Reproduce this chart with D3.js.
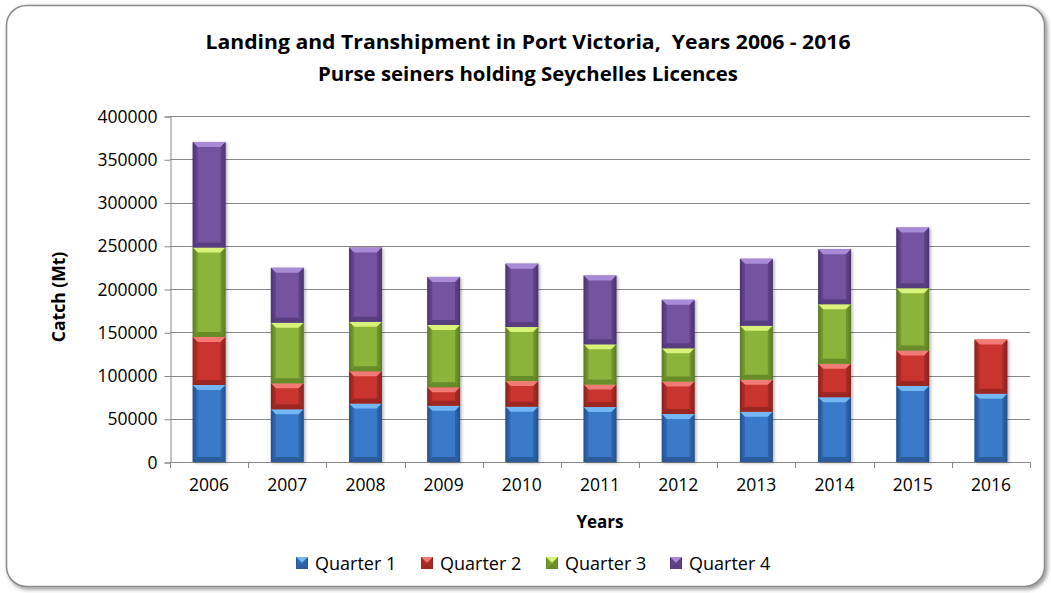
<!DOCTYPE html>
<html>
<head>
<meta charset="utf-8">
<script src="https://cdn.jsdelivr.net/npm/d3@7"></script>
<style>
  body { margin: 0; background: #fff; }
  text { font-family: "Open Sans", sans-serif; fill: #000; }
</style>
</head>
<body>
<div id="chart"></div>
<script>
/**
 * CONSTANTS AND GLOBALS
 **/
const width = 1051, height = 593,
    margin = { top: 116, bottom: 131, left: 170, right: 21 };

// data (catch in Mt)
const years = ["2006", "2007", "2008", "2009", "2010", "2011", "2012", "2013", "2014", "2015", "2016"];
const quarter1 = [89000, 61000, 67500, 65000, 64000, 63500, 55500, 58000, 75000, 88000, 79000];
const quarter2 = [55500, 30000, 37500, 21500, 29500, 26000, 37500, 37000, 38500, 41000, 62500];
const quarter3 = [103500, 70000, 57000, 72000, 62500, 46500, 38500, 62500, 69000, 72000, 0];
const quarter4 = [122000, 63500, 86000, 55500, 73300, 79500, 56000, 77500, 63500, 70000, 0];
const seriesNames = ["Quarter 1", "Quarter 2", "Quarter 3", "Quarter 4"];
const yTicks = [0, 50000, 100000, 150000, 200000, 250000, 300000, 350000, 400000];

// colours: base, light (top bevel), dark (edges)
const colors = [
    { base: "#3b7acb", light: "#73b8f5", dark: "#24508a" },
    { base: "#c9352f", light: "#f27a74", dark: "#882320" },
    { base: "#8bb43a", light: "#d9f27a", dark: "#5b7a23" },
    { base: "#7552a0", light: "#a88ad6", dark: "#4b3370" }
];

// table for d3.stack
const table = years.map((y, i) => ({
    year: y, q1: quarter1[i], q2: quarter2[i], q3: quarter3[i], q4: quarter4[i]
}));
const keys = ["q1", "q2", "q3", "q4"];

const svg = d3.select("#chart").append("svg")
    .attr("width", width)
    .attr("height", height);

const defs = svg.append("defs");
defs.append("filter").attr("id", "frameShadow")
    .attr("x", "-5%").attr("y", "-5%").attr("width", "110%").attr("height", "110%")
    .append("feDropShadow")
    .attr("dx", 2).attr("dy", 2).attr("stdDeviation", 2)
    .attr("flood-color", "#000").attr("flood-opacity", 0.45);
defs.append("filter").attr("id", "barShadow")
    .attr("x", "-20%").attr("y", "-5%").attr("width", "140%").attr("height", "110%")
    .append("feDropShadow")
    .attr("dx", 1.5).attr("dy", 1).attr("stdDeviation", 1.5)
    .attr("flood-color", "#000").attr("flood-opacity", 0.3);

colors.forEach((c, i) => {
    const g = defs.append("linearGradient").attr("id", "grad" + i)
        .attr("x1", 0).attr("x2", 1).attr("y1", 0).attr("y2", 0);
    g.append("stop").attr("offset", "0%").attr("stop-color", c.dark);
    g.append("stop").attr("offset", "12%").attr("stop-color", c.base);
    g.append("stop").attr("offset", "88%").attr("stop-color", c.base);
    g.append("stop").attr("offset", "100%").attr("stop-color", c.dark);
});

// chart frame
svg.append("rect")
    .attr("x", 6.5).attr("y", 5.5)
    .attr("width", 1038).attr("height", 581)
    .attr("rx", 20).attr("ry", 20)
    .attr("fill", "#fff")
    .attr("stroke", "#8a8a8a")
    .attr("stroke-width", 1.5)
    .attr("filter", "url(#frameShadow)");

//Scales
const xScale = d3.scaleBand()
    .domain(years)
    .range([margin.left, width - margin.right])
    .paddingInner(0.58)
    .paddingOuter(0.29);

const yScale = d3.scaleLinear()
    .domain([0, 400000])
    .range([height - margin.bottom, margin.top]);

// gridlines
svg.append("g")
    .selectAll("line")
    .data(yTicks.slice(1))
    .join("line")
    .attr("x1", margin.left)
    .attr("x2", width - margin.right)
    .attr("y1", d => Math.round(yScale(d)) + 0.5)
    .attr("y2", d => Math.round(yScale(d)) + 0.5)
    .attr("stroke", "#888")
    .attr("stroke-width", 1.2);

//axes
const yAxis = d3.axisLeft(yScale).tickValues(yTicks).tickSize(6).tickPadding(7).tickFormat(d3.format("d"));
const yG = svg.append("g")
    .attr("transform", `translate(${margin.left + 0.5}, 0.5)`)
    .call(yAxis);
yG.select(".domain").attr("stroke", "#888");
yG.selectAll(".tick line").attr("stroke", "#888");
yG.selectAll(".tick text").attr("font-size", 17.5).attr("fill", "#000")
    .style("font-family", "'Open Sans', sans-serif");

// x axis: ticks sit on category boundaries
const step = xScale.step();
const x0 = margin.left;
const boundaries = d3.range(years.length + 1).map(i => x0 + i * step);
const xG = svg.append("g");
xG.append("line")
    .attr("x1", margin.left).attr("x2", width - margin.right)
    .attr("y1", yScale(0) + 0.5).attr("y2", yScale(0) + 0.5)
    .attr("stroke", "#888").attr("stroke-width", 1.2);
xG.selectAll("line.tk")
    .data(boundaries)
    .join("line")
    .attr("class", "tk")
    .attr("x1", d => Math.round(d) + 0.5).attr("x2", d => Math.round(d) + 0.5)
    .attr("y1", yScale(0)).attr("y2", yScale(0) + 6)
    .attr("stroke", "#888");
xG.selectAll("text")
    .data(years)
    .join("text")
    .attr("x", d => xScale(d) + xScale.bandwidth() / 2)
    .attr("y", yScale(0) + 29)
    .attr("text-anchor", "middle")
    .attr("font-size", 17.5)
    .text(d => d);

// stacked bars with bevel
const stacked = d3.stack().keys(keys)(table);
const bevel = 5;

function drawBevel(g, x, y, w, h, ci) {
    const c = colors[ci];
    const b = Math.min(bevel, h / 2, w / 2);
    g.append("rect")
        .attr("x", x).attr("y", y).attr("width", w).attr("height", h)
        .attr("fill", `url(#grad${ci})`);
    // top bevel
    g.append("polygon")
        .attr("points", [[x, y], [x + w, y], [x + w - b, y + b], [x + b, y + b]].join(" "))
        .attr("fill", c.light);
    // bottom bevel
    g.append("polygon")
        .attr("points", [[x, y + h], [x + w, y + h], [x + w - b, y + h - b], [x + b, y + h - b]].join(" "))
        .attr("fill", c.dark).attr("opacity", 0.7);
    // side bevels
    g.append("polygon")
        .attr("points", [[x, y], [x + b, y + b], [x + b, y + h - b], [x, y + h]].join(" "))
        .attr("fill", c.dark).attr("opacity", 0.45);
    g.append("polygon")
        .attr("points", [[x + w, y], [x + w - b, y + b], [x + w - b, y + h - b], [x + w, y + h]].join(" "))
        .attr("fill", c.dark).attr("opacity", 0.55);
}

const barsG = svg.append("g");
years.forEach((yr, i) => {
    const col = barsG.append("g").attr("filter", "url(#barShadow)");
    stacked.forEach((layer, ci) => {
        const d = layer[i];
        if (d[1] - d[0] <= 0) return;
        const yTop = yScale(d[1]), yBot = yScale(d[0]);
        drawBevel(col, xScale(yr), yTop, xScale.bandwidth(), yBot - yTop, ci);
    });
});

// titles (the reference text is a little stretched sideways)
svg.append("text")
    .attr("x", 528).attr("y", 49)
    .attr("text-anchor", "middle")
    .attr("font-size", 19).attr("font-weight", "bold")
    .attr("textLength", 645).attr("lengthAdjust", "spacingAndGlyphs")
    .style("white-space", "pre")
    .text("Landing and Transhipment in Port Victoria,  Years 2006 - 2016");
svg.append("text")
    .attr("x", 528).attr("y", 81)
    .attr("text-anchor", "middle")
    .attr("font-size", 19).attr("font-weight", "bold")
    .attr("textLength", 420).attr("lengthAdjust", "spacingAndGlyphs")
    .text("Purse seiners holding Seychelles Licences");

// axis titles
svg.append("text")
    .attr("x", (margin.left + width - margin.right) / 2)
    .attr("y", 528)
    .attr("text-anchor", "middle")
    .attr("font-size", 17).attr("font-weight", "bold")
    .text("Years");
svg.append("text")
    .attr("transform", `translate(65, 297) rotate(-90)`)
    .attr("text-anchor", "middle")
    .attr("font-size", 17.5).attr("font-weight", "bold")
    .text("Catch (Mt)");

// legend
const legendX = [296, 421, 546, 670];
const legend = svg.append("g");
seriesNames.forEach((name, i) => {
    const g = legend.append("g");
    drawBevel(g, legendX[i], 557, 12, 12, i);
    g.append("text")
        .attr("x", legendX[i] + 19)
        .attr("y", 570)
        .attr("font-size", 18)
        .text(name);
});
</script>
</body>
</html>
